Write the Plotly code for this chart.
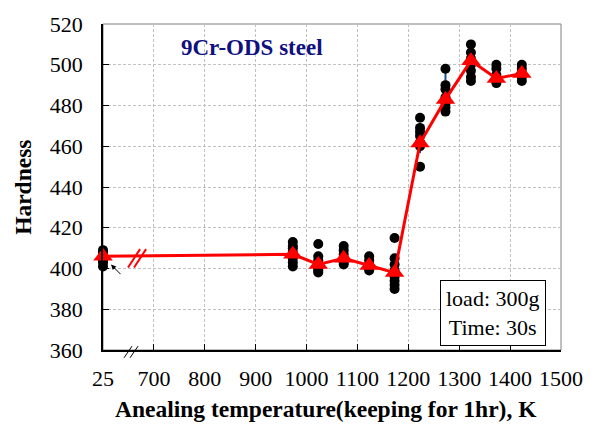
import plotly.graph_objects as go

# ---- data ----
# annealing temperatures (K); 25 = as-received (room temp, deg C) shown at the broken-axis start
temps = [25, 973, 1023, 1073, 1123, 1173, 1223, 1273, 1323, 1373, 1423]
BREAK_POS = 600  # axis position used for the "25" (broken axis)

# individual hardness measurements per temperature
measurements = [
    [401, 403, 404, 405, 406, 408, 409],
    [401, 403, 405, 407, 408, 410, 411, 413],
    [412, 406, 404, 402, 400, 399, 398],
    [411, 409, 407, 405, 403, 402],
    [406, 404, 402, 400, 399],
    [415, 405, 402, 399, 396, 394, 392, 390],
    [474, 469, 467, 465, 462, 460, 450],
    [498, 490, 488, 484, 481, 479, 477],
    [510, 506, 503, 500, 497, 494, 492],
    [500, 498, 495, 493, 491],
    [500, 498, 496, 494, 492],
]
# mean hardness
means = [406, 407, 402, 405, 401.5, 398, 461.6, 483, 502, 493.3, 495.7]
# error bar half-lengths (upper / lower)
errors_plus = [3, 5, 3, 4, 3, 6, 5, 15, 6, 5, 4]
errors_minus = [3, 5, 3, 4, 3, 6, 5, 5, 6, 2, 3]

tick_vals = [600, 700, 800, 900, 1000, 1100, 1200, 1300, 1400, 1500]
tick_text = ["25", "700", "800", "900", "1000", "1100", "1200", "1300", "1400", "1500"]
y_ticks = [360, 380, 400, 420, 440, 460, 480, 500, 520]

FONT = "'Liberation Serif', 'Times New Roman', Times, serif"

def pos(t):
    return BREAK_POS if t == 25 else t

xpos = [pos(t) for t in temps]

dot_x, dot_y = [], []
for t, vals in zip(temps, measurements):
    for v in vals:
        dot_x.append(pos(t))
        dot_y.append(v)

fig = go.Figure()

# error bars (drawn beneath dots)
fig.add_trace(go.Scatter(
    x=xpos, y=means, mode="markers",
    marker=dict(size=1, color="rgba(0,0,0,0)"),
    error_y=dict(type="data", array=errors_plus, arrayminus=errors_minus, visible=True,
                 color="#1F4E8C", thickness=2, width=0),
    cliponaxis=False, showlegend=False, hoverinfo="skip",
))

# individual measurements
fig.add_trace(go.Scatter(
    x=dot_x, y=dot_y, mode="markers",
    marker=dict(symbol="circle", size=10, color="black"),
    cliponaxis=False, showlegend=False,
))

# mean line
fig.add_trace(go.Scatter(
    x=xpos, y=means, mode="lines+markers",
    line=dict(color="#FF0000", width=3),
    marker=dict(symbol="triangle-up", size=17, color="#FF0000"),
    cliponaxis=False, showlegend=False,
))

def px2x(p):
    return 600 + (p - 103) / 457 * 900

def px2y(p):
    return 520 - (p - 14) / 336 * 160

shapes = []
# gray frame (top / right)
shapes.append(dict(type="rect", xref="paper", yref="paper", x0=0, y0=0, x1=1, y1=1,
                   line=dict(color="#808080", width=1), layer="between"))
# axis break marks on x axis
for a, b in [((124, 358), (132, 346)), ((130, 358), (138, 346))]:
    shapes.append(dict(type="line", xref="x", yref="paper",
                       x0=px2x(a[0]), y0=(350 - a[1]) / 336,
                       x1=px2x(b[0]), y1=(350 - b[1]) / 336,
                       line=dict(color="black", width=1)))
# red break marks on the line
for a, b in [((128, 265), (140, 246)), ((134, 265), (146, 246))]:
    shapes.append(dict(type="line", xref="x", yref="y",
                       x0=px2x(a[0]), y0=px2y(a[1]),
                       x1=px2x(b[0]), y1=px2y(b[1]),
                       line=dict(color="#FF0000", width=2)))

annotations = [
    dict(text="9Cr-ODS steel", xref="paper", yref="paper", x=0.326, y=0.929,
         xanchor="center", yanchor="middle",
         showarrow=False, font=dict(family=FONT, size=23, color="#10107F", weight="bold")),
    dict(text="load: 300g<br>Time: 30s", xref="paper", yref="paper", x=0.852, y=0.113,
         xanchor="center", yanchor="middle", showarrow=False, align="center",
         font=dict(family=FONT, size=22, color="black"),
         bordercolor="black", borderwidth=1, bgcolor="white", borderpad=5),
    dict(text="Hardness", xref="paper", yref="paper", x=-0.175, y=0.5, textangle=-90,
         xanchor="center", yanchor="middle",
         showarrow=False, font=dict(family=FONT, size=23.5, color="black", weight="bold")),
    dict(text="Anealing temperature(keeping for 1hr), K", xref="paper", yref="paper",
         x=0.486, y=-0.1815, xanchor="center", yanchor="middle", showarrow=False,
         font=dict(family=FONT, size=23.5, color="black", weight="bold")),
    dict(text="", x=px2x(111), y=px2y(262), xref="x", yref="y", showarrow=True,
         ax=11, ay=11, arrowhead=2, arrowsize=1, arrowwidth=1, arrowcolor="black"),
]

fig.update_layout(
    width=596, height=432,
    margin=dict(l=103, r=35, t=14, b=82),
    paper_bgcolor="white", plot_bgcolor="white",
    font=dict(family=FONT, size=22, color="black"),
    shapes=shapes, annotations=annotations,
    xaxis=dict(range=[600, 1500], tickvals=tick_vals, ticktext=tick_text,
               showline=True, linecolor="black", linewidth=1.5,
               ticks="inside", ticklen=6, tickcolor="black",
               showgrid=True, gridcolor="#C0C0C0", griddash="3px,2px", gridwidth=1,
               zeroline=False, ticklabelstandoff=8,
               tickfont=dict(family=FONT, size=22, color="black")),
    yaxis=dict(range=[360, 520], tickvals=y_ticks,
               showline=True, linecolor="black", linewidth=1.5,
               ticks="inside", ticklen=6, tickcolor="black",
               showgrid=True, gridcolor="#C0C0C0", griddash="3px,2px", gridwidth=1,
               zeroline=False, ticklabelstandoff=14,
               tickfont=dict(family=FONT, size=22, color="black")),
)

fig.write_html("out.html")
